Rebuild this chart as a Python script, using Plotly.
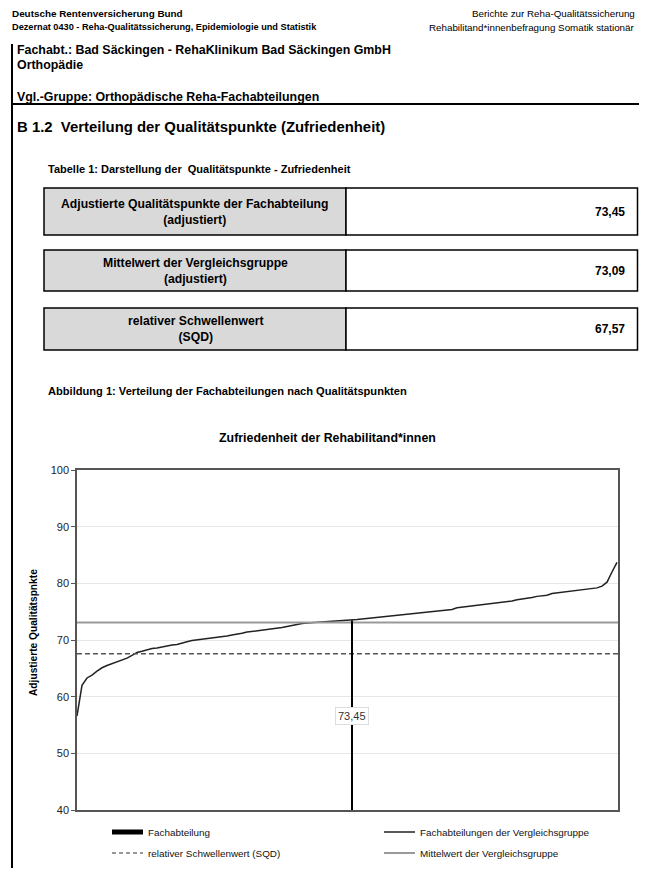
import plotly.graph_objects as go

# ---------------- data ----------------
ranks = list(range(1, 110))
group_values = [
    56.6, 62.0, 63.3, 63.8, 64.5, 65.1, 65.5, 65.8, 66.1, 66.4,
    66.8, 67.3, 67.8, 68.0, 68.3, 68.5, 68.6, 68.8, 69.0, 69.1,
    69.2, 69.5, 69.7, 69.9, 70.0, 70.2, 70.3, 70.4, 70.5, 70.6,
    70.7, 70.9, 71.0, 71.2, 71.4, 71.5, 71.6, 71.7, 71.8, 72.0,
    72.1, 72.2, 72.4, 72.6, 72.8, 72.9, 73.0, 73.05, 73.1, 73.15,
    73.2, 73.25, 73.3, 73.35, 73.4, 73.45, 73.6, 73.7, 73.8, 73.9,
    74.0, 74.1, 74.2, 74.3, 74.4, 74.5, 74.6, 74.65, 74.8, 74.9,
    75.0, 75.1, 75.2, 75.3, 75.35, 75.4, 75.7, 75.8, 75.9, 76.0,
    76.1, 76.2, 76.3, 76.4, 76.5, 76.6, 76.7, 76.9, 77.1, 77.2,
    77.3, 77.5, 77.7, 77.8, 77.9, 78.2, 78.3, 78.4, 78.5, 78.6,
    78.7, 78.8, 78.9, 79.0, 79.2, 79.5, 80.2, 82.0, 83.7,
]
fach_rank = 56
fach_value = 73.45
mean_value = 73.09
sqd_value = 67.57
fach_label = "73,45"

table_labels = [
    "Adjustierte Qualitätspunkte der Fachabteilung<br>(adjustiert)",
    "Mittelwert der Vergleichsgruppe<br>(adjustiert)",
    "relativer Schwellenwert<br>(SQD)",
]
table_values = ["73,45", "73,09", "67,57"]

y_ticks = [40, 50, 60, 70, 80, 90, 100]

# ---------------- page geometry ----------------
OFF = 8                      # default body margin of the html page
PAGE_W, PAGE_H = 647, 876
W, H = PAGE_W - OFF, PAGE_H - 2 * OFF
RIGHT = PAGE_W - OFF         # last visible page column
PL, PR, PT, PB = 77, 618, 470, 810   # plot area in page pixels


def px(x):
    return (x - PL) / (PR - PL)


def py(y):
    return (PB - y) / (PB - PT)


ARIAL = "Liberation Sans, Arial, sans-serif"

fig = go.Figure()

fig.add_trace(go.Scatter(x=ranks, y=group_values, mode="lines",
                         line=dict(color="#222222", width=1.5), showlegend=False,
                         hoverinfo="skip"))
fig.add_trace(go.Scatter(x=[ranks[0], 109.2], y=[mean_value, mean_value], mode="lines",
                         line=dict(color="#999999", width=2), showlegend=False,
                         hoverinfo="skip"))
fig.add_trace(go.Scatter(x=[ranks[0], 109.2], y=[sqd_value, sqd_value], mode="lines",
                         line=dict(color="#555555", width=1.6, dash="5px,3px"),
                         showlegend=False, hoverinfo="skip"))
fig.add_trace(go.Scatter(x=[fach_rank, fach_rank], y=[40, fach_value], mode="lines",
                         line=dict(color="#000000", width=2), showlegend=False,
                         hoverinfo="skip"))

shapes = []
ann = []


def text(x, y, s, size, bold=False, anchor="left", color="#000000"):
    if bold:
        s = "<b>" + s + "</b>"
    ann.append(dict(x=px(x), y=py(y), xref="paper", yref="paper", text=s, showarrow=False,
                    xanchor=anchor, yanchor="middle",
                    font=dict(size=size, family=ARIAL, color=color)))


def line(x0, y0, x1, y1, color="#000000", width=1, dash="solid"):
    shapes.append(dict(type="line", xref="paper", yref="paper", x0=px(x0), y0=py(y0),
                       x1=px(x1), y1=py(y1), line=dict(color=color, width=width, dash=dash)))


def rect(x0, y0, x1, y1, fill, color="#000000", width=1.5):
    shapes.append(dict(type="rect", xref="paper", yref="paper", x0=px(x0), y0=py(y0),
                       x1=px(x1), y1=py(y1), fillcolor=fill, line=dict(color=color, width=width),
                       layer="below"))


# header
text(10, 14, "Deutsche Rentenversicherung Bund", 9.9, True)
text(10, 27, "Dezernat 0430 - Reha-Qualitätssicherung, Epidemiologie und Statistik", 9.2, True)
text(RIGHT - 2, 14, "Berichte zur Reha-Qualitätssicherung", 9.8, False, anchor="right")
text(RIGHT - 2, 27, "Rehabilitand*innenbefragung Somatik stationär", 9.8, False, anchor="right")

# left rule and top rule
line(12, 44, 12, PAGE_H - OFF, width=2)
line(12, 104, RIGHT, 104, width=2)

text(15, 50, "Fachabt.: Bad Säckingen - RehaKlinikum Bad Säckingen GmbH", 12.4, True)
text(15, 65, "Orthopädie", 12.4, True)
text(15, 97, "Vgl.-Gruppe: Orthopädische Reha-Fachabteilungen", 12.4, True)
text(15, 127, "B 1.2  Verteilung der Qualitätspunkte (Zufriedenheit)", 14.9, True)
text(46, 169, "Tabelle 1: Darstellung der  Qualitätspunkte - Zufriedenheit", 11, True)

# table boxes
boxes = [(188, 235), (250, 291), (308, 350)]
for (t, b), lab, val in zip(boxes, table_labels, table_values):
    rect(44, t, 346, b, "#d9d9d9")
    rect(346, t, RIGHT - 1.5, b, "#ffffff")
    text(195, (t + b) / 2, "<b>" + lab.replace("<br>", "</b><br><b>") + "</b>", 12.2, False,
         anchor="center")
    text(RIGHT - 12, (t + b) / 2, val, 12, True, anchor="right")

text(46, 391, "Abbildung 1: Verteilung der Fachabteilungen nach Qualitätspunkten", 11.1, True)
text(327, 438, "Zufriedenheit der Rehabilitand*innen", 12.4, True, anchor="center")

# y-axis title
ann.append(dict(x=px(33), y=py(633), xref="paper", yref="paper",
                text="<b>Adjustierte Qualitätspnkte</b>", showarrow=False, textangle=-90,
                xanchor="center", yanchor="middle", font=dict(size=10.2, family=ARIAL, color="#000")))

# value label in chart
ann.append(dict(x=fach_rank, y=56.6, xref="x", yref="y", text=fach_label, showarrow=False,
                bgcolor="#ffffff", bordercolor="#dddddd", borderwidth=1, borderpad=2,
                font=dict(size=11, family=ARIAL, color="#333333")))

# custom legend
shapes.append(dict(type="rect", xref="paper", yref="paper", x0=px(112), x1=px(143),
                   y0=py(834.5), y1=py(829.5), fillcolor="#000000", line=dict(width=0)))
text(146, 832, "Fachabteilung", 9.9, color="#111")
line(112, 853, 143, 853, color="#333333", width=1.2, dash="4px,3px")
text(146, 853, "relativer Schwellenwert (SQD)", 9.9, color="#111")
line(384, 832, 415, 832, color="#222222", width=1.5)
text(418, 832, "Fachabteilungen der Vergleichsgruppe", 9.9, color="#111")
line(384, 853, 415, 853, color="#999999", width=2)
text(418, 853, "Mittelwert der Vergleichsgruppe", 9.9, color="#111")

fig.update_layout(
    width=W, height=H,
    margin=dict(l=PL - OFF, r=(OFF + W) - PR, t=PT - OFF, b=(OFF + H) - PB, pad=0),
    paper_bgcolor="#ffffff", plot_bgcolor="#ffffff",
    showlegend=False,
    shapes=shapes, annotations=ann,
    xaxis=dict(range=[1, 109.2], showticklabels=False, ticks="", showgrid=False,
               zeroline=False, showline=True, linecolor="#555555", linewidth=1.5, mirror=True),
    yaxis=dict(range=[40, 100], tickvals=y_ticks, ticks="outside", ticklen=4,
               tickcolor="#555555", showgrid=True, gridcolor="#e6e6e6", gridwidth=1,
               zeroline=False, showline=True, linecolor="#555555", linewidth=1.5, mirror=True,
               tickfont=dict(size=11, family=ARIAL, color="#222222")),
)

fig.write_html("out.html")
